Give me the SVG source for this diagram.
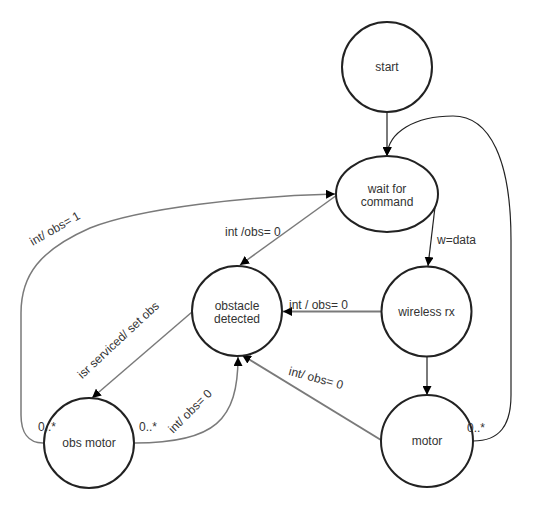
<svg xmlns="http://www.w3.org/2000/svg" width="553" height="508" viewBox="0 0 553 508">
<style>
.node{fill:#fff;stroke:#222;stroke-width:2}
text{font-family:"Liberation Sans",Arial,sans-serif;font-size:12px;fill:#333}
.c{text-anchor:middle}
.g{fill:none;stroke:#7a7a7a;stroke-width:2}
.g1{fill:none;stroke:#7a7a7a;stroke-width:1.5}
.b{fill:none;stroke:#222;stroke-width:1.2}
</style>
<defs>
<marker id="ah" viewBox="0 0 10 10" refX="10" refY="5" markerWidth="9" markerHeight="9" markerUnits="userSpaceOnUse" orient="auto">
<path d="M0,0 L10,5 L0,10 z" fill="#000"/>
</marker>
</defs>
<g id="connectors">
<path class="g" d="M387,113 L387,156" marker-end="url(#ah)"/>
<path class="b" d="M435,207 L428,266" marker-end="url(#ah)"/>
<path class="g" d="M427,357 L427,395" marker-end="url(#ah)"/>
<path class="b" d="M473,441 C500,441 511,425 511,395 L511,240 C511,160 490,116 453,116 C415,116 388,132 387,156" marker-end="url(#ah)"/>
<path class="g" d="M381,311.5 L283,311.5" marker-end="url(#ah)"/>
<path class="g1" d="M337,195 L240,265" marker-end="url(#ah)"/>
<path class="g1" d="M43,443 C28,443 21,432 21,415 L21,313 C21,275 40,250 90,228 C140,208 250,196 335,194" marker-end="url(#ah)"/>
<path class="g1" d="M135,443 C215,443 238,420 238,357" marker-end="url(#ah)"/>
<path class="g" d="M381,440 L242,355" marker-end="url(#ah)"/>
<path class="g1" d="M192,312 L92,398" marker-end="url(#ah)"/>
</g>
<g id="start"><circle class="node" cx="387" cy="67" r="45"/><text class="c" x="387" y="71">start</text></g>
<g id="wait"><ellipse class="node" cx="387" cy="194" rx="51" ry="38"/><text class="c" x="387" y="192.5">wait for</text><text class="c" x="387" y="206">command</text></g>
<g id="wireless"><circle class="node" cx="426.5" cy="311.5" r="45"/><text class="c" x="426.5" y="316">wireless rx</text></g>
<g id="motor"><circle class="node" cx="427" cy="441" r="46"/><text class="c" x="427" y="445">motor</text></g>
<g id="obstacle"><circle class="node" cx="237" cy="311" r="45"/><text class="c" x="237" y="309.5">obstacle</text><text class="c" x="237" y="322.5">detected</text></g>
<g id="obsmotor"><circle class="node" cx="89" cy="443" r="45"/><text class="c" x="89" y="447">obs motor</text></g>
<g id="labels">
<text x="437" y="244">w=data</text>
<text x="289" y="309">int / obs= 0</text>
<text x="225" y="236">int /obs= 0</text>
<text class="c" transform="translate(57,232) rotate(-30)">int/ obs= 1</text>
<text class="c" transform="translate(121,343) rotate(-43)">isr serviced/ set obs</text>
<text class="c" transform="translate(193,414) rotate(-45)">int/ obs= 0</text>
<text class="c" transform="translate(315,382) rotate(15)">int/ obs= 0</text>
<text x="38" y="431">0..*</text>
<text x="139" y="431">0..*</text>
<text x="467" y="432">0..*</text>
</g>
</svg>
